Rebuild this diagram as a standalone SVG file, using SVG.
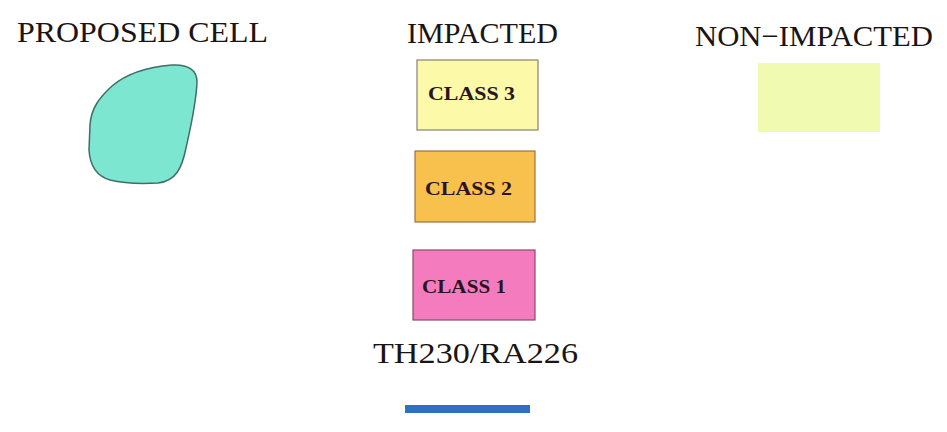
<svg xmlns="http://www.w3.org/2000/svg" width="947" height="432" viewBox="0 0 947 432">
<style>
.title{font-family:"Liberation Serif","DejaVu Serif",serif;font-size:30px;fill:#1a1414}
.lbl{font-family:"Liberation Serif","DejaVu Serif",serif;font-size:19px;font-weight:bold;fill:#2a1420}
.box{stroke-width:1.2}
</style>
<rect width="947" height="432" fill="#ffffff"/>
<g id="proposed-cell">
<text class="title" x="17" y="42" textLength="251" lengthAdjust="spacingAndGlyphs">PROPOSED CELL</text>
<path d="M90,125 C91,108 100,97 112,86 C126,74 148,67 172,65 C188,64 197,70 197,82 C196,105 190,130 186,148 C182,168 176,181 158,183 C140,184 122,183 110,180 C96,176 90,166 89,150 Z" fill="#7de6d0" stroke="#3f6e66" stroke-width="1.5"/>
</g>
<g id="impacted">
<text class="title" x="407" y="43" textLength="151" lengthAdjust="spacingAndGlyphs">IMPACTED</text>
</g>
<g id="class3">
<rect class="box" x="417" y="60" width="121" height="70" fill="#fcf9a8" stroke="#8a8272"/>
<text class="lbl" x="428" y="100" textLength="87" lengthAdjust="spacingAndGlyphs">CLASS  3</text>
</g>
<g id="class2">
<rect class="box" x="415" y="151" width="120" height="71" fill="#f8c04c" stroke="#9c7446"/>
<text class="lbl" x="425" y="195" textLength="87" lengthAdjust="spacingAndGlyphs">CLASS  2</text>
</g>
<g id="class1">
<rect class="box" x="413" y="250" width="122" height="70" fill="#f47cbe" stroke="#8e4a68"/>
<text class="lbl" x="422" y="293" textLength="84" lengthAdjust="spacingAndGlyphs">CLASS  1</text>
</g>
<g id="th230">
<text class="title" x="373" y="363" textLength="205" lengthAdjust="spacingAndGlyphs">TH230/RA226</text>
<rect x="405" y="405" width="125" height="8" fill="#2f6fc4"/>
</g>
<g id="non-impacted">
<text class="title" x="695" y="46" textLength="238" lengthAdjust="spacingAndGlyphs">NON−IMPACTED</text>
<rect x="758" y="63" width="122" height="69" fill="#f0fab0"/>
</g>
<g id="connectors"></g>
</svg>
